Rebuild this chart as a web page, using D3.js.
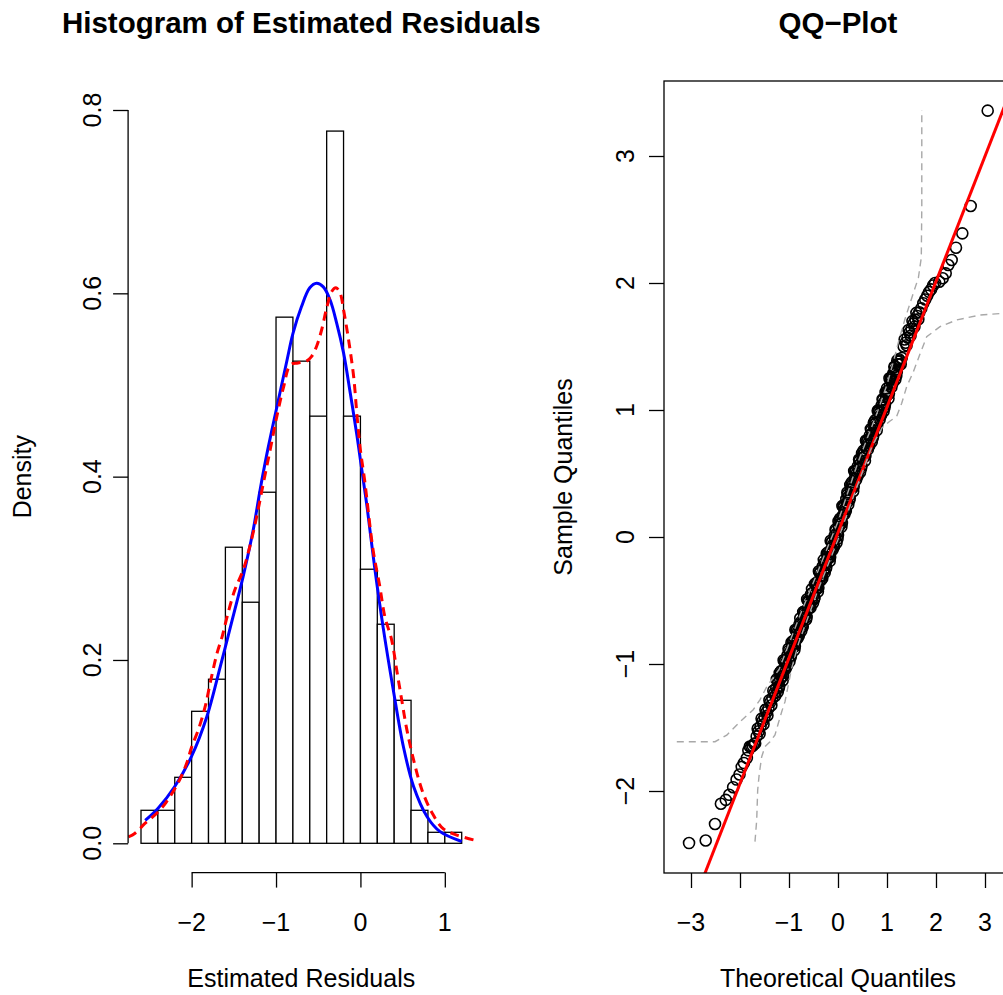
<!DOCTYPE html>
<html><head><meta charset="utf-8">
<script src="https://cdn.jsdelivr.net/npm/d3@7"></script>
<style>
body{margin:0;background:#fff;overflow:hidden}
svg{display:block}
text{font-family:"Liberation Sans",Arial,Helvetica,sans-serif;fill:#000}
</style>
</head><body>
<svg id="c" width="1003" height="995"></svg>
<script>
// ---------- Histogram data ----------
const binEdges = [-2.6,-2.4,-2.2,-2.0,-1.8,-1.6,-1.4,-1.2,-1.0,-0.8,-0.6,-0.4,-0.2,0.0,0.2,0.4,0.6,0.8,1.0,1.2];
const binDensity = [0.036,0.036,0.072,0.144,0.179,0.323,0.263,0.383,0.574,0.526,0.466,0.777,0.466,0.299,0.239,0.156,0.036,0.012,0.012];

// fitted normal curve (blue)
const normX = [-2.55,-2.40,-2.20,-2.00,-1.82,-1.66,-1.51,-1.39,-1.27,-1.19,-1.11,-0.99,-0.87,-0.80,-0.70,-0.60,-0.52,-0.44,-0.36,-0.28,-0.20,-0.12,-0.04,0.00,0.08,0.17,0.27,0.39,0.51,0.63,0.79,0.94,1.20];
const normY = [0.025,0.038,0.062,0.095,0.138,0.193,0.247,0.291,0.342,0.385,0.424,0.476,0.527,0.556,0.585,0.606,0.611,0.607,0.593,0.567,0.535,0.491,0.444,0.418,0.366,0.300,0.235,0.167,0.105,0.062,0.029,0.013,0.002];

// kernel density (red dashed)
const kdeX = [-2.75,-2.67,-2.55,-2.41,-2.30,-2.16,-2.06,-2.00,-1.92,-1.84,-1.78,-1.70,-1.64,-1.58,-1.49,-1.39,-1.31,-1.23,-1.15,-1.07,-0.99,-0.91,-0.83,-0.74,-0.64,-0.58,-0.52,-0.46,-0.40,-0.34,-0.29,-0.24,-0.20,-0.14,-0.08,-0.04,0.00,0.05,0.15,0.23,0.29,0.37,0.43,0.49,0.55,0.63,0.73,0.85,0.98,1.14,1.35];
const kdeY = [0.007,0.011,0.022,0.033,0.045,0.066,0.087,0.105,0.124,0.149,0.175,0.207,0.225,0.247,0.276,0.298,0.324,0.356,0.393,0.429,0.466,0.498,0.522,0.524,0.526,0.531,0.542,0.560,0.584,0.602,0.606,0.600,0.582,0.549,0.509,0.466,0.429,0.396,0.320,0.280,0.247,0.222,0.189,0.156,0.124,0.091,0.058,0.033,0.016,0.009,0.0035];

const histXTicks = [-2,-1,0,1];
const histYTicks = [0,0.2,0.4,0.6,0.8];

// ---------- QQ data (theoretical, sample) ----------
const qqTheo = [-3.04,-2.70,-2.51,-2.39,-2.29,-2.22,-2.14,-2.07,-2.01,-1.965,-1.92,-1.86,-1.83,-1.80,-1.77,-1.74,-1.71,-1.69,
 -1.66,-1.62,-1.58,-1.54,-1.50,-1.46,-1.42,-1.38,-1.34,-1.30,-1.26,-1.22,-1.18,-1.14,-1.10,-1.06,-1.02,-0.98,-0.94,-0.90,-0.86,-0.82,-0.78,-0.74,-0.70,-0.66,-0.62,-0.58,-0.54,-0.50,-0.46,-0.42,-0.38,-0.34,-0.30,-0.26,-0.22,-0.18,-0.14,-0.10,-0.06,-0.02,
 0.02,0.06,0.10,0.14,0.18,0.22,0.26,0.30,0.34,0.38,0.42,0.46,0.50,0.54,0.58,0.62,0.66,0.70,0.74,0.78,0.82,0.86,0.90,0.94,0.98,1.02,1.06,1.10,1.14,1.18,1.22,1.26,1.30,
 1.34,1.38,1.42,1.46,1.50,1.54,1.58,1.62,1.66,1.70,1.74,1.78,1.82,1.86,1.90,1.94,1.98,
 2.067,2.137,2.198,2.251,2.32,2.408,2.537,2.708,3.055,
 -1.64,-1.60,-1.56,-1.52,-1.48,-1.44,-1.40,-1.36,-1.32,-1.28,-1.24,-1.20,-1.16,-1.12,-1.08,-1.04,-1.00,-0.96,-0.92,-0.88,-0.84,-0.80,-0.76,-0.72,-0.68,-0.64,-0.60,-0.56,-0.52,-0.48,-0.44,-0.40,-0.36,-0.32,-0.28,-0.24,-0.20,-0.16,-0.12,-0.08,-0.04,
 0.00,0.04,0.08,0.12,0.16,0.20,0.24,0.28,0.32,0.36,0.40,0.44,0.48,0.52,0.56,0.60,0.64,0.68,0.72,0.76,0.80,0.84,0.88,0.92,0.96,1.00,1.04,1.08,1.12,1.16,1.20,1.24,1.28,
 1.36,1.40,1.44,1.48,1.52,1.56,1.60,1.64];
const qqSample = [-2.41,-2.39,-2.26,-2.10,-2.07,-2.03,-1.97,-1.91,-1.87,-1.81,-1.78,-1.74,-1.68,-1.65,-1.65,-1.645,-1.63,-1.625,
 -1.57,-1.53,-1.49,-1.45,-1.42,-1.38,-1.35,-1.30,-1.27,-1.23,-1.19,-1.15,-1.12,-1.07,-1.04,-0.99,-0.96,-0.91,-0.88,-0.84,-0.80,-0.75,-0.73,-0.69,-0.64,-0.61,-0.57,-0.53,-0.50,-0.46,-0.42,-0.38,-0.34,-0.30,-0.27,-0.22,-0.18,-0.14,-0.10,-0.06,-0.01,0.03,
 0.08,0.13,0.17,0.22,0.27,0.32,0.37,0.41,0.46,0.50,0.54,0.58,0.62,0.66,0.70,0.74,0.78,0.82,0.86,0.90,0.94,0.98,1.02,1.06,1.11,1.15,1.19,1.24,1.28,1.32,1.36,1.39,1.41,
 1.50,1.53,1.57,1.61,1.64,1.68,1.71,1.74,1.77,1.80,1.84,1.87,1.90,1.93,1.95,1.98,2.00,
 2.01,2.037,2.076,2.142,2.181,2.278,2.391,2.606,3.357,
 -1.51,-1.55,-1.43,-1.475,-1.36,-1.405,-1.285,-1.325,-1.21,-1.25,-1.13,-1.175,-1.055,-1.095,-0.975,-1.015,-0.895,-0.935,-0.82,-0.86,-0.735,-0.78,-0.67,-0.705,-0.585,-0.63,-0.51,-0.555,-0.44,-0.48,-0.36,-0.40,-0.28,-0.325,-0.205,-0.24,-0.12,-0.16,-0.04,-0.075,0.05,
 0.015,0.145,0.11,0.235,0.205,0.335,0.305,0.43,0.395,0.52,0.48,0.60,0.56,0.68,0.64,0.76,0.72,0.84,0.80,0.92,0.88,1.00,0.96,1.08,1.045,1.17,1.13,1.255,1.22,1.34,1.30,1.40,1.36,
 1.555,1.51,1.63,1.585,1.70,1.655,1.765,1.715];

// more points in the dense central band
const qqTheoBand = [-1.25,-1.21,-1.17,-1.13,-1.09,-1.05,-1.01,-0.97,-0.93,-0.89,-0.85,-0.81,-0.77,-0.73,-0.69,-0.65,-0.61,-0.57,-0.53,-0.49,-0.45,-0.41,-0.37,-0.33,-0.29,-0.25,-0.21,-0.17,-0.13,-0.09,-0.05,-0.01,
 0.03,0.07,0.11,0.15,0.19,0.23,0.27,0.31,0.35,0.39,0.43,0.47,0.51,0.55,0.59,0.63,0.67,0.71,0.75,0.79,0.83,0.87,0.91,0.95,0.99,1.03,1.07,1.11,1.15,1.19,1.23,
 -1.23,-1.19,-1.15,-1.11,-1.07,-1.03,-0.99,-0.95,-0.91,-0.87,-0.83,-0.79,-0.75,-0.71,-0.67,-0.63,-0.59,-0.55,-0.51,-0.47,-0.43,-0.39,-0.35,-0.31,-0.27,-0.23,-0.19,-0.15,-0.11,-0.07,-0.03,
 0.01,0.05,0.09,0.13,0.17,0.21,0.25,0.29,0.33,0.37,0.41,0.45,0.49,0.53,0.57,0.61,0.65,0.69,0.73,0.77,0.81,0.85,0.89,0.93,0.97,1.01,1.05,1.09,1.13,1.17,1.21,1.25];
const qqSampleBand = [-1.12,-1.19,-1.08,-1.13,-0.98,-1.01,-0.88,-0.95,-0.84,-0.89,-0.74,-0.77,-0.64,-0.71,-0.60,-0.65,-0.50,-0.53,-0.41,-0.49,-0.38,-0.43,-0.28,-0.31,-0.18,-0.25,-0.14,-0.19,-0.04,-0.07,0.06,-0.015,
 0.12,0.08,0.24,0.215,0.35,0.29,0.40,0.36,0.51,0.48,0.61,0.54,0.65,0.60,0.75,0.72,0.85,0.78,0.89,0.84,0.985,0.955,1.085,1.02,1.13,1.09,1.24,1.21,1.34,1.27,1.38,
 -1.22,-1.07,-1.10,-0.97,-1.04,-0.93,-0.98,-0.83,-0.86,-0.73,-0.80,-0.69,-0.74,-0.59,-0.62,-0.49,-0.56,-0.45,-0.52,-0.37,-0.40,-0.27,-0.34,-0.23,-0.28,-0.13,-0.16,-0.03,-0.10,0.01,-0.045,
 0.125,0.105,0.245,0.18,0.30,0.255,0.41,0.385,0.52,0.45,0.56,0.51,0.66,0.63,0.76,0.69,0.80,0.75,0.90,0.87,0.995,0.925,1.035,0.99,1.14,1.12,1.25,1.18,1.29,1.24,1.39,1.36];

const qqLine = {intercept: 0.035, slope: 0.988};

const envUpperX = [-3.29,-2.51,-2.27,-2.00,-1.73,-1.59,-1.455,-1.20,-0.80,-0.40,0.00,0.40,0.80,1.00,1.13,1.25,1.37,1.52,1.64,1.70,1.71,1.71];
const envUpperY = [-1.612,-1.612,-1.56,-1.455,-1.36,-1.28,-1.18,-1.04,-0.64,-0.26,0.12,0.58,0.98,1.20,1.38,1.56,1.72,1.90,2.04,2.20,2.60,3.362];
const envLowerX = [-1.694,-1.659,-1.639,-1.606,-1.557,-1.49,-1.388,-1.286,-1.218,-1.149,-1.082,-0.95,-0.80,-0.40,0.00,0.40,0.70,0.90,1.05,1.198,1.30,1.401,1.537,1.673,1.810,2.082,2.422,2.898,3.37,3.55];
const envLowerY = [-2.399,-2.228,-1.992,-1.861,-1.730,-1.651,-1.612,-1.559,-1.467,-1.376,-1.297,-1.04,-0.83,-0.41,-0.02,0.41,0.72,0.86,0.91,0.95,1.053,1.183,1.30,1.44,1.577,1.656,1.709,1.748,1.761,1.765];

const qqXTicks = [-3,-2,-1,0,1,2,3];
const qqXLabels = ["\u22123","","\u22121","0","1","2","3"];
const qqYTicks = [-2,-1,0,1,2,3];

// ---------- drawing ----------
const svg = d3.select("#c");
const FS = 25;
const minus = v => String(v).replace("-", "\u2212");

// ===== Left panel: histogram =====
const L = {x0:128.1, x1:474.5, y0:80.7, y1:872.6};
const hx = d3.scaleLinear().domain([-2.6,1.2]).range([141,461.7]);
const hy = d3.scaleLinear().domain([0,0.8]).range([843.3,110]);

svg.append("defs").append("clipPath").attr("id","clipL")
  .append("rect").attr("x",L.x0).attr("y",L.y0).attr("width",L.x1-L.x0).attr("height",L.y1-L.y0);

const bars = binDensity.map((d,i)=>({a:binEdges[i], b:binEdges[i+1], d}));
svg.append("g").selectAll("rect").data(bars).join("rect")
  .attr("x", d=>hx(d.a)).attr("width", d=>hx(d.b)-hx(d.a))
  .attr("y", d=>hy(d.d)).attr("height", d=>hy(0)-hy(d.d))
  .attr("fill","#fff").attr("stroke","#000").attr("stroke-width",1.3);

const lineH = d3.line().x(d=>hx(d[0])).y(d=>hy(d[1])).curve(d3.curveCatmullRom);
const gL = svg.append("g").attr("clip-path","url(#clipL)");
gL.append("path").attr("d", lineH(normX.map((x,i)=>[x,normY[i]])))
  .attr("fill","none").attr("stroke","#0000ff").attr("stroke-width",3);
gL.append("path").attr("d", lineH(kdeX.map((x,i)=>[x,kdeY[i]])))
  .attr("fill","none").attr("stroke","#ff0000").attr("stroke-width",3).attr("stroke-dasharray","9,6");

// axes
const axB = d3.axisBottom(hx).tickValues(histXTicks).tickSize(15).tickSizeOuter(0).tickFormat("");
const gAB = svg.append("g").attr("transform",`translate(0,${L.y1})`).call(axB);
gAB.select(".domain").remove();
gAB.append("line").attr("x1",hx(histXTicks[0])).attr("x2",hx(histXTicks[histXTicks.length-1])).attr("stroke","#000");
gAB.selectAll("line").attr("stroke","#000").attr("stroke-width",1.3);
svg.append("g").selectAll("text").data(histXTicks).join("text")
  .attr("x", d=>hx(d)).attr("y", 931).attr("text-anchor","middle").attr("font-size",FS)
  .text(d=>minus(d));

const axLft = d3.axisLeft(hy).tickValues(histYTicks).tickSize(15).tickSizeOuter(0).tickFormat("");
const gAL = svg.append("g").attr("transform",`translate(${L.x0},0)`).call(axLft);
gAL.select(".domain").remove();
gAL.append("line").attr("y1",hy(histYTicks[0])).attr("y2",hy(histYTicks[histYTicks.length-1])).attr("stroke","#000");
gAL.selectAll("line").attr("stroke","#000").attr("stroke-width",1.3);
svg.append("g").selectAll("text").data(histYTicks).join("text")
  .attr("transform", d=>`translate(${L.x0-36},${hy(d)}) rotate(-90)`)
  .attr("dy","0.35em").attr("text-anchor","middle").attr("font-size",FS)
  .text(d=>d3.format(".1f")(d));

svg.append("text").attr("x",(L.x0+L.x1)/2).attr("y",33).attr("text-anchor","middle")
  .attr("font-size",29.5).attr("font-weight","bold").text("Histogram of Estimated Residuals");
svg.append("text").attr("x",(L.x0+L.x1)/2).attr("y",987).attr("text-anchor","middle")
  .attr("font-size",FS).text("Estimated Residuals");
svg.append("text").attr("transform",`translate(22,${(L.y0+L.y1)/2}) rotate(-90)`)
  .attr("dy","0.35em").attr("text-anchor","middle").attr("font-size",FS).text("Density");

// ===== Right panel: QQ plot =====
const R = {x0:664, x1:1012, y0:81, y1:873};
const qx = d3.scaleLinear().domain([-3,3]).range([691,985]);
const qy = d3.scaleLinear().domain([-2,3]).range([791,156]);

svg.select("defs").append("clipPath").attr("id","clipR")
  .append("rect").attr("x",R.x0).attr("y",R.y0).attr("width",R.x1-R.x0).attr("height",R.y1-R.y0);

const qqPoints = qqTheo.map((t,i)=>[t,qqSample[i]])
  .concat(qqTheoBand.map((t,i)=>[t,qqSampleBand[i]]));

const gR = svg.append("g").attr("clip-path","url(#clipR)");
gR.append("g").selectAll("circle").data(qqPoints).join("circle")
  .attr("cx", d=>qx(d[0])).attr("cy", d=>qy(d[1])).attr("r",5.5)
  .attr("fill","none").attr("stroke","#000").attr("stroke-width",1.6);

const xd = qx.invert(R.x0), xe = qx.invert(R.x1);
gR.append("line")
  .attr("x1", qx(xd)).attr("y1", qy(qqLine.intercept+qqLine.slope*xd))
  .attr("x2", qx(xe)).attr("y2", qy(qqLine.intercept+qqLine.slope*xe))
  .attr("stroke","#ff0000").attr("stroke-width",3);

const lineQ = d3.line().x(d=>qx(d[0])).y(d=>qy(d[1]));
gR.append("path").attr("d", lineQ(envUpperX.map((x,i)=>[x,envUpperY[i]])))
  .attr("fill","none").attr("stroke","#a8a8a8").attr("stroke-width",1.4).attr("stroke-dasharray","7,5");
gR.append("path").attr("d", lineQ(envLowerX.map((x,i)=>[x,envLowerY[i]])))
  .attr("fill","none").attr("stroke","#a8a8a8").attr("stroke-width",1.4).attr("stroke-dasharray","7,5");

svg.append("rect").attr("x",R.x0).attr("y",R.y0).attr("width",R.x1-R.x0).attr("height",R.y1-R.y0)
  .attr("fill","none").attr("stroke","#000").attr("stroke-width",1.3);

const qAB = d3.axisBottom(qx).tickValues(qqXTicks).tickSize(15).tickSizeOuter(0).tickFormat("");
const gQB = svg.append("g").attr("transform",`translate(0,${R.y1})`).call(qAB);
gQB.select(".domain").remove();
gQB.selectAll("line").attr("stroke","#000").attr("stroke-width",1.3);
svg.append("g").selectAll("text").data(qqXTicks).join("text")
  .attr("x", d=>qx(d)).attr("y", 931).attr("text-anchor","middle").attr("font-size",FS)
  .text((d,i)=>qqXLabels[i]);

const qAL = d3.axisLeft(qy).tickValues(qqYTicks).tickSize(15).tickSizeOuter(0).tickFormat("");
const gQL = svg.append("g").attr("transform",`translate(${R.x0},0)`).call(qAL);
gQL.select(".domain").remove();
gQL.selectAll("line").attr("stroke","#000").attr("stroke-width",1.3);
svg.append("g").selectAll("text").data(qqYTicks).join("text")
  .attr("transform", d=>`translate(${R.x0-39},${qy(d)}) rotate(-90)`)
  .attr("dy","0.35em").attr("text-anchor","middle").attr("font-size",FS)
  .text(d=>minus(d));

svg.append("text").attr("x",(R.x0+R.x1)/2).attr("y",33).attr("text-anchor","middle")
  .attr("font-size",29.5).attr("font-weight","bold").text("QQ\u2212Plot");
svg.append("text").attr("x",(R.x0+R.x1)/2).attr("y",987).attr("text-anchor","middle")
  .attr("font-size",FS).text("Theoretical Quantiles");
svg.append("text").attr("transform",`translate(563,${(R.y0+R.y1)/2}) rotate(-90)`)
  .attr("dy","0.35em").attr("text-anchor","middle").attr("font-size",FS).text("Sample Quantiles");
</script>
</body></html>
